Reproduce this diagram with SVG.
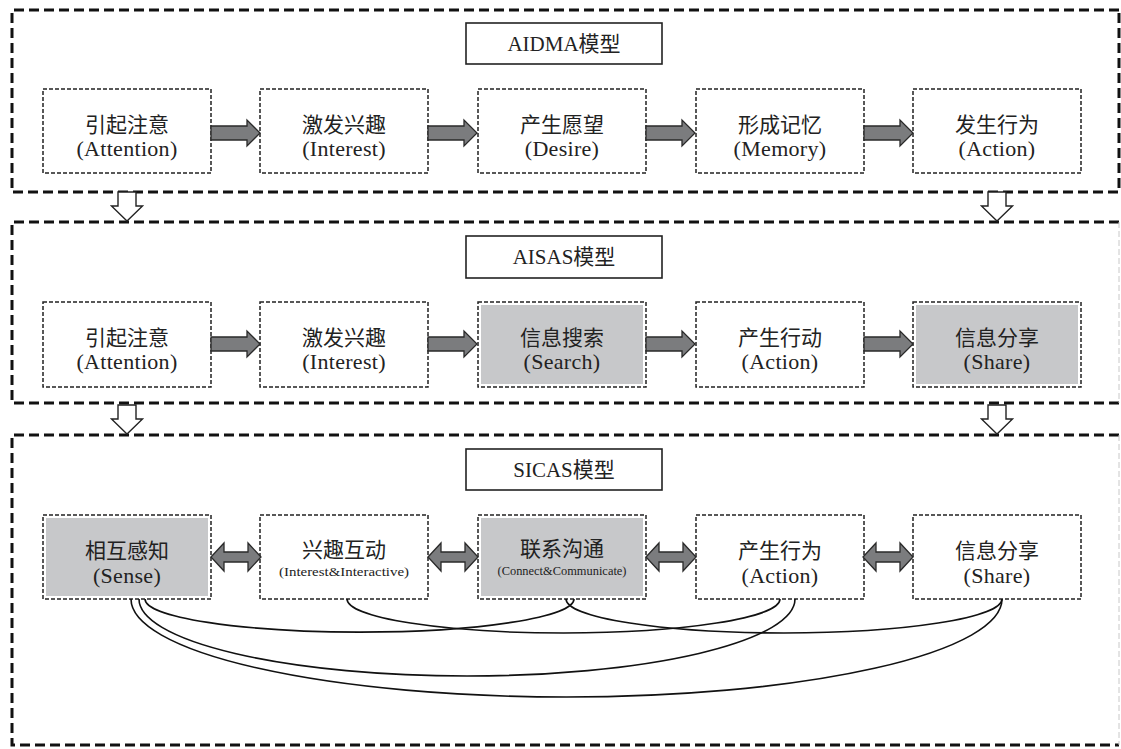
<svg xmlns="http://www.w3.org/2000/svg" width="1121" height="749" viewBox="0 0 1121 749">
  <defs>
    <style>
      .panel { fill: none; stroke: #111; stroke-width: 3; stroke-dasharray: 10 5; }
      .panel-edge { fill: none; stroke: #c8c8c8; stroke-width: 1; stroke-dasharray: 6 3; }
      .node { fill: #fff; stroke: #222; stroke-width: 1.5; stroke-dasharray: 4 2; }
      .shade { fill: #c7c8ca; }
      .title { fill: #fff; stroke: #222; stroke-width: 1.6; }
      .zh { font-family: "Noto Sans CJK SC", "Noto Sans", sans-serif; font-size: 21px; fill: #222; text-anchor: middle; }
      .en { font-family: "Liberation Serif", "Noto Sans CJK SC", serif; font-size: 22px; letter-spacing: 0.3px; fill: #222; text-anchor: middle; }
      .en-s { font-family: "Liberation Serif", serif; font-size: 13px; fill: #222; text-anchor: middle; }
      .ttl { font-family: "Liberation Serif", "Noto Sans CJK SC", serif; font-size: 21px; fill: #222; text-anchor: middle; }
      .flow { fill: #7b7c7e; stroke: #2a2a2a; stroke-width: 1.3; stroke-linejoin: miter; }
      .down { fill: #fff; stroke: #222; stroke-width: 1.4; }
      .link { fill: none; stroke: #111; stroke-width: 1.6; }
    </style>
    <!-- right-pointing block arrow, origin at its tail centre -->
    <polygon id="fwd" class="flow" points="0,-7 36,-7 36,-13 49,0 36,13 36,7 0,7"/>
    <!-- two-headed block arrow -->
    <polygon id="both" class="flow" points="0,0 13,-14 13,-5 37,-5 37,-14 50,0 37,14 37,5 13,5 13,14"/>
    <!-- hollow downward arrow, origin at tip -->
    <polygon id="dn" class="down" points="0,0 -15.5,-15 -9,-15 -9,-29 9,-29 9,-15 15.5,-15"/>
  </defs>

  <rect width="1121" height="749" fill="#fff"/>

  <!-- model panels -->
  <g id="panels">
    <path class="panel" d="M1119,10 H12 V192 H1119 V10"/>
    <path class="panel" d="M1119,222 H12 V403 H1119"/>
    <line class="panel-edge" x1="1119" y1="222" x2="1119" y2="403"/>
    <path class="panel" d="M1119,435 H12 V745 H1119"/>
    <line class="panel-edge" x1="1119" y1="435" x2="1119" y2="745"/>
  </g>

  <!-- panel headings -->
  <g id="title-aidma">
    <rect class="title" x="466" y="23" width="196" height="41"/>
    <text class="ttl" x="564" y="51">AIDMA模型</text>
  </g>
  <g id="title-aisas">
    <rect class="title" x="466" y="236" width="196" height="42"/>
    <text class="ttl" x="564" y="264">AISAS模型</text>
  </g>
  <g id="title-sicas">
    <rect class="title" x="466" y="449" width="196" height="41"/>
    <text class="ttl" x="564" y="477">SICAS模型</text>
  </g>

  <!-- AIDMA row -->
  <g id="aidma-attention">
    <rect class="node" x="43" y="89" width="168" height="84"/>
    <text class="zh" x="127" y="132">引起注意</text>
    <text class="en" x="127" y="156">(Attention)</text>
  </g>
  <g id="aidma-interest">
    <rect class="node" x="260" y="89" width="168" height="84"/>
    <text class="zh" x="344" y="132">激发兴趣</text>
    <text class="en" x="344" y="156">(Interest)</text>
  </g>
  <g id="aidma-desire">
    <rect class="node" x="478" y="89" width="168" height="84"/>
    <text class="zh" x="562" y="132">产生愿望</text>
    <text class="en" x="562" y="156">(Desire)</text>
  </g>
  <g id="aidma-memory">
    <rect class="node" x="696" y="89" width="168" height="84"/>
    <text class="zh" x="780" y="132">形成记忆</text>
    <text class="en" x="780" y="156">(Memory)</text>
  </g>
  <g id="aidma-action">
    <rect class="node" x="913" y="89" width="168" height="84"/>
    <text class="zh" x="997" y="132">发生行为</text>
    <text class="en" x="997" y="156">(Action)</text>
  </g>

  <!-- AISAS row -->
  <g id="aisas-attention">
    <rect class="node" x="43" y="302" width="168" height="85"/>
    <text class="zh" x="127" y="345">引起注意</text>
    <text class="en" x="127" y="369">(Attention)</text>
  </g>
  <g id="aisas-interest">
    <rect class="node" x="260" y="302" width="168" height="85"/>
    <text class="zh" x="344" y="345">激发兴趣</text>
    <text class="en" x="344" y="369">(Interest)</text>
  </g>
  <g id="aisas-search">
    <rect class="node" x="478" y="302" width="168" height="85"/>
    <rect class="shade" x="481" y="305" width="162" height="79"/>
    <text class="zh" x="562" y="345">信息搜索</text>
    <text class="en" x="562" y="369">(Search)</text>
  </g>
  <g id="aisas-action">
    <rect class="node" x="696" y="302" width="168" height="85"/>
    <text class="zh" x="780" y="345">产生行动</text>
    <text class="en" x="780" y="369">(Action)</text>
  </g>
  <g id="aisas-share">
    <rect class="node" x="913" y="302" width="168" height="85"/>
    <rect class="shade" x="916" y="305" width="162" height="79"/>
    <text class="zh" x="997" y="345">信息分享</text>
    <text class="en" x="997" y="369">(Share)</text>
  </g>

  <!-- SICAS row -->
  <g id="sicas-sense">
    <rect class="node" x="43" y="515" width="168" height="84"/>
    <rect class="shade" x="46" y="518" width="162" height="78"/>
    <text class="zh" x="127" y="558">相互感知</text>
    <text class="en" x="127" y="583">(Sense)</text>
  </g>
  <g id="sicas-interest">
    <rect class="node" x="260" y="515" width="168" height="84"/>
    <text class="zh" x="344" y="557">兴趣互动</text>
    <text class="en-s" x="344" y="576" textLength="130" lengthAdjust="spacingAndGlyphs">(Interest&amp;Interactive)</text>
  </g>
  <g id="sicas-connect">
    <rect class="node" x="478" y="515" width="168" height="84"/>
    <rect class="shade" x="481" y="518" width="162" height="78"/>
    <text class="zh" x="562" y="556">联系沟通</text>
    <text class="en-s" x="562" y="575" font-size="11" textLength="129" lengthAdjust="spacingAndGlyphs">(Connect&amp;Communicate)</text>
  </g>
  <g id="sicas-action">
    <rect class="node" x="696" y="515" width="168" height="84"/>
    <text class="zh" x="780" y="558">产生行为</text>
    <text class="en" x="780" y="583">(Action)</text>
  </g>
  <g id="sicas-share">
    <rect class="node" x="913" y="515" width="168" height="84"/>
    <text class="zh" x="997" y="558">信息分享</text>
    <text class="en" x="997" y="583">(Share)</text>
  </g>

  <!-- connectors -->
  <g id="connectors">
    <!-- AIDMA flow -->
    <use href="#fwd" x="211" y="133"/>
    <use href="#fwd" x="428" y="133"/>
    <use href="#fwd" x="646" y="133"/>
    <use href="#fwd" x="864" y="133"/>
    <!-- AISAS flow -->
    <use href="#fwd" x="211" y="344"/>
    <use href="#fwd" x="428" y="344"/>
    <use href="#fwd" x="646" y="344"/>
    <use href="#fwd" x="864" y="344"/>
    <!-- SICAS two-way links -->
    <use href="#both" x="211" y="557"/>
    <use href="#both" x="428" y="557"/>
    <use href="#both" x="646" y="557"/>
    <use href="#both" x="863" y="557"/>
    <!-- model evolution -->
    <use href="#dn" x="127" y="221"/>
    <use href="#dn" x="997" y="221"/>
    <use href="#dn" x="127" y="434"/>
    <use href="#dn" x="997" y="434"/>
    <!-- SICAS network links -->
    <path class="link" d="M145,599 A214 33 0 0 0 574,599"/>
    <path class="link" d="M347,599 A216.5 34 0 0 0 780,599"/>
    <path class="link" d="M566,599 A218 34 0 0 0 1002,599"/>
    <path class="link" d="M139,599 A328 77 0 0 0 795,599"/>
    <path class="link" d="M131,599 A435.5 98 0 0 0 1002,599"/>
  </g>
</svg>
